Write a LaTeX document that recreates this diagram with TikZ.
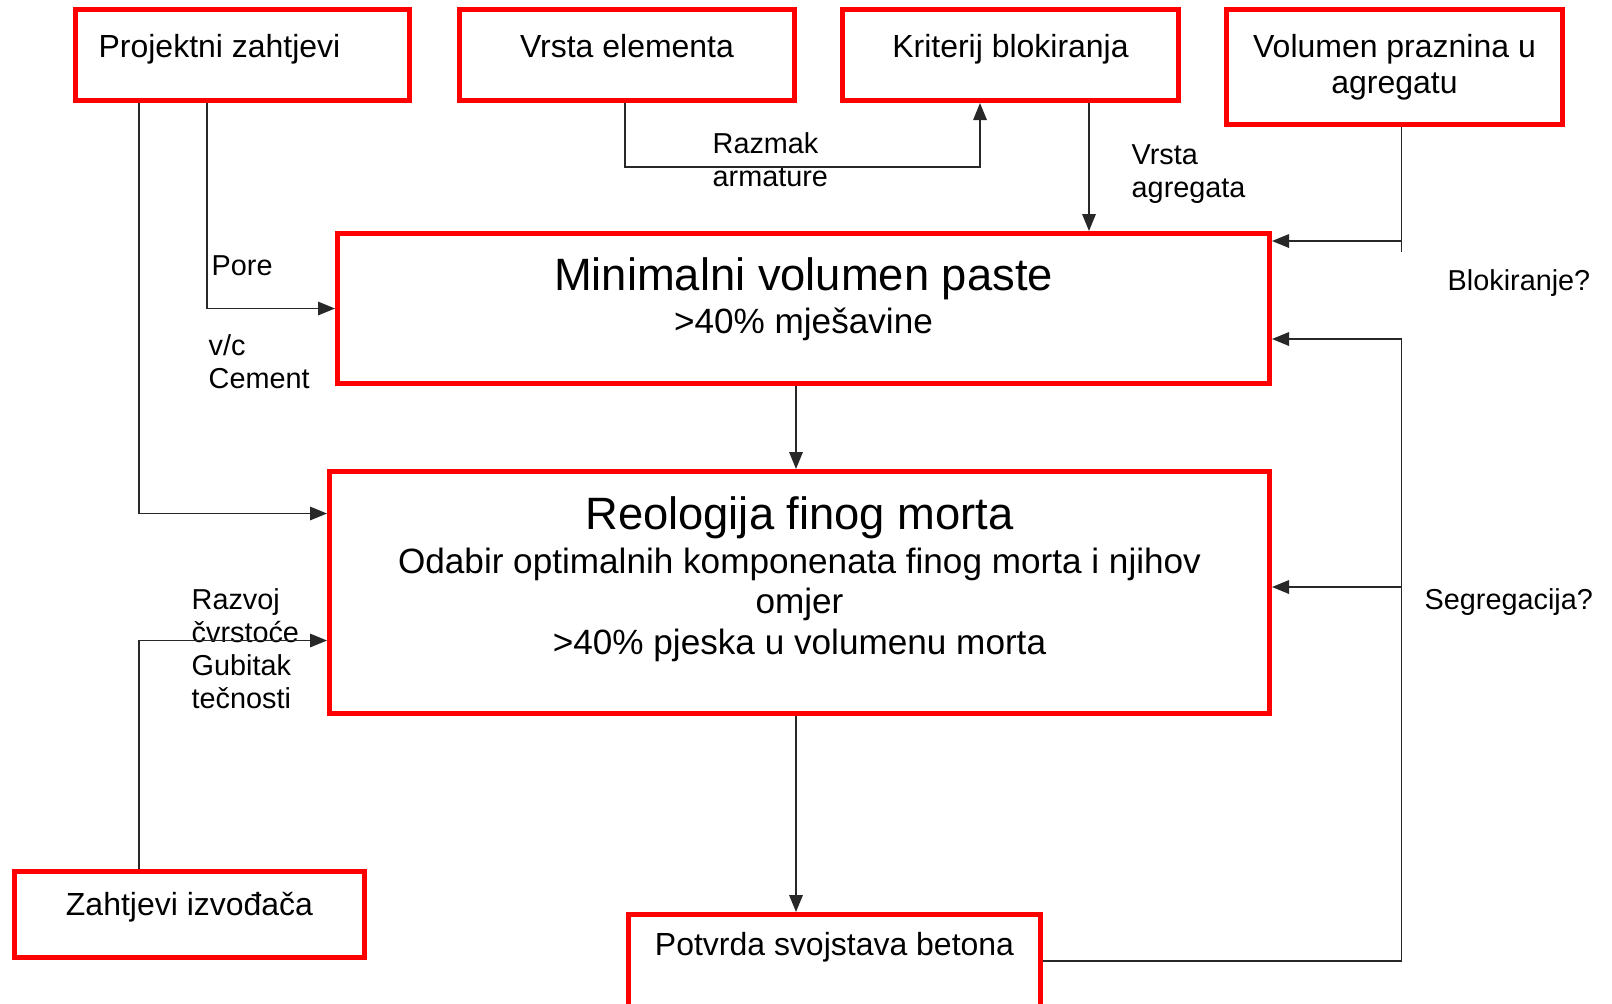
\documentclass[tikz,border=0pt]{standalone}
\usepackage{fontspec}
\setmainfont{Liberation Sans}
\usepackage{tikz}
\usetikzlibrary{arrows.meta,calc}
\definecolor{boxR}{RGB}{255,0,0}
\definecolor{lnG}{RGB}{40,40,40}

\begin{document}
\begin{tikzpicture}[
  x=0.1mm, y=-0.1mm,
  box/.style={draw=boxR, line width=0.5mm, align=center, inner sep=0pt, font=\fontsize{9.1}{10.2}\selectfont},
  mainbox/.style={box, font=\fontsize{10}{11.4}\selectfont},
  conn/.style={draw=lnG, line width=0.45pt, -{Triangle[length=1.7mm,width=1.35mm]}},
  plain/.style={draw=lnG, line width=0.45pt},
  lbl/.style={anchor=north west, align=left, inner sep=0pt, text height=2.1mm, font=\fontsize{8.2}{9.4}\selectfont}
]
\useasboundingbox (0,0) rectangle (1612,1003);
\clip (0,0) rectangle (1612,1003);

% ulazni zahtjevi
\node[box, minimum width=33.4mm, text height=4.8mm, text depth=4.3mm] (pz) at (242.5,55) {Projektni zahtjevi\hspace*{4.6mm}};
\node[box, minimum width=33.5mm, text height=4.8mm, text depth=4.3mm] (ve) at (627,55) {Vrsta elementa};
\node[box, minimum width=33.6mm, text height=4.8mm, text depth=4.3mm] (kb) at (1010.5,55) {Kriterij blokiranja};
\node[box, minimum width=33.6mm, text height=8.4mm, text depth=3.1mm] (vp) at (1394.5,67) {Volumen praznina u\\agregatu};

% glavni koraci
\node[mainbox, minimum width=93.2mm, text height=9.95mm, text depth=5.05mm] (minp) at (803.5,308.5)
  {{\fontsize{12.9}{12.9}\selectfont Minimalni volumen paste}\\[0.8pt] >40\% mješavine};
\node[mainbox, minimum width=94mm, text height=18.25mm, text depth=5.95mm] (reo) at (799.5,592.5)
  {{\fontsize{12.9}{12.9}\selectfont Reologija finog morta}\\[1.1pt] Odabir optimalnih komponenata finog morta i njihov\\ omjer\\ >40\% pjeska u volumenu morta};

\node[box, minimum width=35mm, text height=4.35mm, text depth=4.25mm] (zi) at (189.5,914.5) {Zahtjevi izvođača};
\node[box, minimum width=41.2mm, text height=4.05mm, text depth=5.25mm] (pot) at (834.5,961) {Potvrda svojstava betona};

% oznake
\node[lbl] (lpore) at (211,254) {Pore};
\node[lbl] (lvc) at (208,367) {v/c\\Cement};
\node[lbl] (lraz) at (712,165) {Razmak\\armature};
\node[lbl] (lvag) at (1131,176) {Vrsta\\agregata};
\node[lbl] (lblok) at (1447,269) {Blokiranje?};
\node[lbl] (lseg) at (1424,588) {Segregacija?};
\node[lbl] (lrv) at (191,687) {Razvoj\\čvrstoće\\Gubitak\\tečnosti};

% veze
\coordinate (ra) at ($(kb.south)+(-30.5,64)$);
\coordinate (va) at ($(kb.south)+(78.5,0)$);
\coordinate (vb) at ($(minp.east)+(129.5,-67.5)$);
\coordinate (fbtop) at ($(minp.east)+(129.5,30.5)$);
\coordinate (sg) at ($(reo.east)+(0,-5.5)$);
\coordinate (mr) at ($(minp.south)+(-7.5,0)$);
\coordinate (ro) at ($(reo.south)+(-3.5,0)$);

\draw[conn] ($(pz.south)+(-35.5,0)$) |- (minp.west);
\draw[conn] ($(pz.south)+(-103.5,0)$) |- ($(reo.west)+(0,-79)$);
\draw[conn] ($(zi.north)+(-50.5,0)$) |- ($(reo.west)+(0,48)$);
\draw[conn] ($(ve.south)+(-2,0)$) |- (ra) -- (ra |- kb.south);
\draw[conn] (va) -- (va |- minp.north);
\draw[plain] (vp.south -| vb) -- ($(vb)+(0,11)$);
\draw[conn] (vb) -- (vb -| minp.east);
\draw[conn] (mr) -- (mr |- reo.north);
\draw[conn] (ro) -- (ro |- pot.north);
\draw[conn] (pot.east) -| (fbtop) -- (fbtop -| minp.east);
\draw[conn] (sg -| fbtop) -- (sg);

\end{tikzpicture}
\end{document}
